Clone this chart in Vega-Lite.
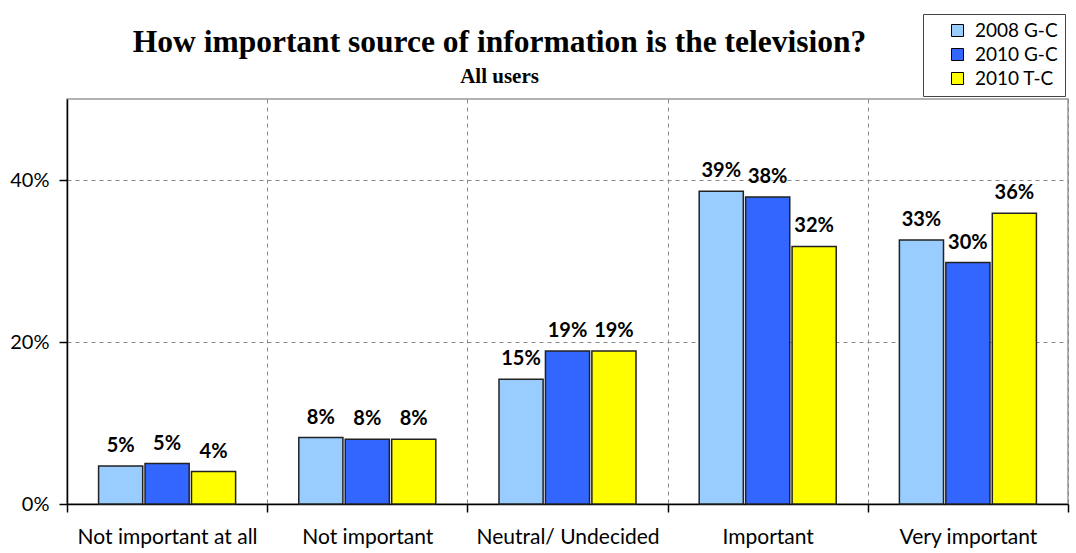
{
  "$schema": "https://vega.github.io/schema/vega-lite/v6.json",
  "width": 1001,
  "height": 405,
  "autosize": {"type": "none"},
  "padding": {"left": 67, "top": 99, "right": 8, "bottom": 49},
  "background": "white",
  "title": {
    "text": "How important source of information is the television?",
    "subtitle": "All users",
    "anchor": "middle",
    "dx": -68,
    "font": "Liberation Serif",
    "fontSize": 31.5,
    "fontWeight": "bold",
    "color": "black",
    "subtitleFont": "Liberation Serif",
    "subtitleFontSize": 21,
    "subtitleFontWeight": "bold",
    "subtitleColor": "black",
    "subtitlePadding": 7,
    "offset": -73
  },
  "data": {
    "values": [
      {"cat": "Not important at all", "series": "2008 G-C", "value": 0.047},
      {"cat": "Not important at all", "series": "2010 G-C", "value": 0.050},
      {"cat": "Not important at all", "series": "2010 T-C", "value": 0.040},
      {"cat": "Not important", "series": "2008 G-C", "value": 0.082},
      {"cat": "Not important", "series": "2010 G-C", "value": 0.080},
      {"cat": "Not important", "series": "2010 T-C", "value": 0.080},
      {"cat": "Neutral/ Undecided", "series": "2008 G-C", "value": 0.154},
      {"cat": "Neutral/ Undecided", "series": "2010 G-C", "value": 0.189},
      {"cat": "Neutral/ Undecided", "series": "2010 T-C", "value": 0.189},
      {"cat": "Important", "series": "2008 G-C", "value": 0.386},
      {"cat": "Important", "series": "2010 G-C", "value": 0.379},
      {"cat": "Important", "series": "2010 T-C", "value": 0.318},
      {"cat": "Very important", "series": "2008 G-C", "value": 0.326},
      {"cat": "Very important", "series": "2010 G-C", "value": 0.298},
      {"cat": "Very important", "series": "2010 T-C", "value": 0.359}
    ]
  },
  "encoding": {
    "x": {
      "field": "cat",
      "type": "nominal",
      "sort": ["Not important at all", "Not important", "Neutral/ Undecided", "Important", "Very important"],
      "scale": {"paddingInner": 0, "paddingOuter": 0},
      "axis": {
        "title": null,
        "labelAngle": 0,
        "labelFont": "Lato",
        "labelFontSize": 21,
        "labelColor": "black",
        "labelPadding": 14,
        "labelLimit": 400,
        "tickBand": "extent",
        "ticks": true,
        "tickSize": 8,
        "tickColor": "black",
        "tickWidth": 1.5,
        "domainColor": "black",
        "domainWidth": 1.5,
        "grid": true,
        "gridDash": [4, 4],
        "gridColor": "#888",
        "gridWidth": 1
      }
    },
    "xOffset": {
      "field": "series",
      "sort": ["2008 G-C", "2010 G-C", "2010 T-C"],
      "scale": {"paddingInner": 0.05, "paddingOuter": 0.68}
    },
    "y": {
      "field": "value",
      "type": "quantitative",
      "scale": {"domain": [0, 0.5]},
      "axis": {
        "title": null,
        "values": [0, 0.2, 0.4],
        "format": ".0%",
        "labelFont": "Lato",
        "labelFontSize": 20,
        "labelColor": "black",
        "labelPadding": 10,
        "tickSize": 8,
        "tickColor": "black",
        "tickWidth": 1.5,
        "domainColor": "black",
        "domainWidth": 1.5,
        "grid": true,
        "gridDash": [4, 4],
        "gridColor": "#888",
        "gridWidth": 1
      }
    }
  },
  "layer": [
    {
      "mark": {"type": "bar", "stroke": "#222", "strokeWidth": 1.5},
      "encoding": {
        "color": {
          "field": "series",
          "type": "nominal",
          "sort": ["2008 G-C", "2010 G-C", "2010 T-C"],
          "scale": {"domain": ["2008 G-C", "2010 G-C", "2010 T-C"], "range": ["#99CCFF", "#3366FF", "#FFFF00"]},
          "legend": {
            "title": null,
            "orient": "none",
            "legendX": 856,
            "legendY": -85,
            "fillColor": "white",
            "strokeColor": "#444",
            "padding": 7,
            "symbolType": "square",
            "symbolSize": 144,
            "symbolStrokeColor": "black",
            "symbolStrokeWidth": 1,
            "symbolOffset": 18,
            "labelOffset": 8,
            "labelFont": "Lato",
            "labelFontSize": 19,
            "labelColor": "black",
            "rowPadding": 4,
            "labelExpr": "datum.label + '\u00a0\u00a0'"
          }
        }
      }
    },
    {
      "mark": {"type": "text", "baseline": "bottom", "dy": -10, "font": "Lato", "fontWeight": "bold", "fontSize": 20, "color": "black"},
      "encoding": {
        "text": {"field": "value", "type": "quantitative", "format": ".0%"}
      }
    }
  ],
  "config": {
    "view": {"stroke": "#999", "strokeWidth": 1.5}
  }
}
